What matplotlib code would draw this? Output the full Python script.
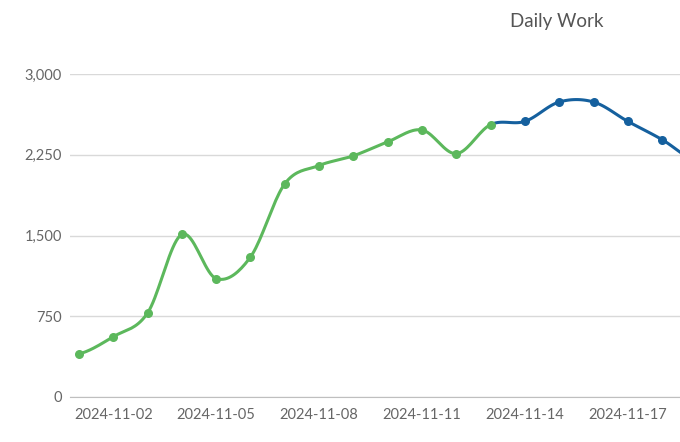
import numpy as np
import matplotlib
matplotlib.use("Agg")
import matplotlib.pyplot as plt
import pandas as pd

plt.rcParams['font.family'] = ['Lato', 'DejaVu Sans']

dates = pd.date_range("2024-11-01", "2024-11-19").strftime("%Y-%m-%d").tolist()
values = [400, 560, 780, 1510, 1100, 1300, 1980, 2150, 2240, 2370, 2480, 2260, 2530,
          2560, 2740, 2740, 2560, 2390, 2190]
split = 12  # index where the blue segment starts
tick_labels = ["2024-11-02", "2024-11-05", "2024-11-08", "2024-11-11", "2024-11-14", "2024-11-17"]

green, blue = "#5cb85c", "#15609e"

def smooth(xs, ys, n=20):
    xs, ys = np.asarray(xs, float), np.asarray(ys, float)
    px = np.concatenate([[2*xs[0]-xs[1]], xs, [2*xs[-1]-xs[-2]]])
    py = np.concatenate([[ys[0]], ys, [ys[-1]]])
    ox, oy = [], []
    for i in range(1, len(px)-2):
        t = np.linspace(0, 1, n)
        for p, o in ((px, ox), (py, oy)):
            p0, p1, p2, p3 = p[i-1], p[i], p[i+1], p[i+2]
            o.extend(0.5*((2*p1) + (-p0+p2)*t + (2*p0-5*p1+4*p2-p3)*t**2 + (-p0+3*p1-3*p2+p3)*t**3))
    return np.array(ox), np.array(oy)

x = np.arange(len(values))
fig = plt.figure(figsize=(6.8, 4.42), dpi=100)
ax = fig.add_axes([70/680, 1-397/442, 1-70/680, (397-74)/442])
n = 20
sx, sy = smooth(x, values, n)
ax.plot(sx[:split*n], sy[:split*n], color=green, lw=2.2, zorder=3)
ax.plot(sx[split*n:], sy[split*n:], color=blue, lw=2.2, zorder=3)
ax.scatter(x[:split+1], values[:split+1], color=green, s=30, zorder=4)
ax.scatter(x[split+1:], values[split+1:], color=blue, s=30, zorder=4)

ax.set_xlim(-0.26, 17.52)
ax.set_ylim(0, 3000)
ax.set_yticks([0, 750, 1500, 2250, 3000])
ax.set_yticklabels(["0", "750", "1,500", "2,250", "3,000"])
ax.set_xticks([dates.index(d) for d in tick_labels])
ax.set_xticklabels(tick_labels)
ax.grid(axis="y", color="#d9d9d9", lw=1)
ax.set_axisbelow(True)
for s in ax.spines.values():
    s.set_visible(False)
ax.spines["bottom"].set_visible(True)
ax.spines["bottom"].set_color("#bfbfbf")
ax.tick_params(length=0, colors="#666666", labelsize=10.5)
ax.tick_params(axis="y", pad=6)
ax.tick_params(axis="x", pad=8)
fig.text(557/680, 1-22/442, "Daily Work", ha="center", va="center", fontsize=13.5, color="#555555")
fig.savefig("out.png", dpi=100)
